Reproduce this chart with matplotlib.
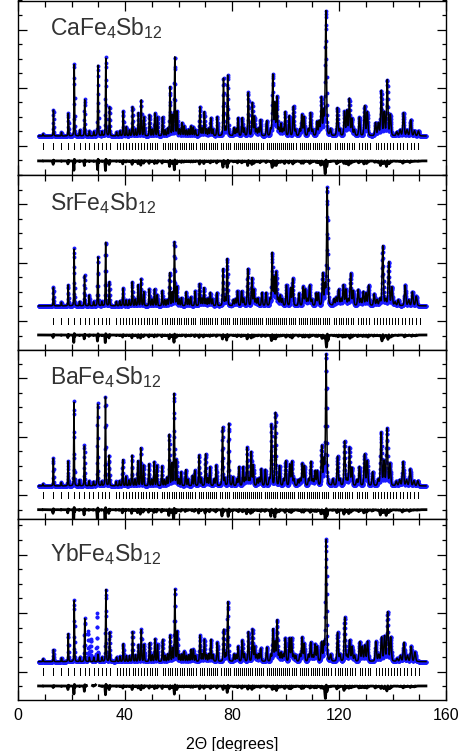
import numpy as np
import matplotlib.pyplot as plt
from matplotlib.ticker import MultipleLocator

plt.rcParams['font.family'] = ['Liberation Sans', 'DejaVu Sans']
plt.rcParams['mathtext.fontset'] = 'custom'
plt.rcParams['mathtext.rm'] = 'Liberation Sans'

# compounds, top to bottom
labels = [r'CaFe$\mathregular{_4}$Sb$\mathregular{_{12}}$',
          r'SrFe$\mathregular{_4}$Sb$\mathregular{_{12}}$',
          r'BaFe$\mathregular{_4}$Sb$\mathregular{_{12}}$',
          r'YbFe$\mathregular{_4}$Sb$\mathregular{_{12}}$']

wavelength = 1.057                            # Angstrom
lattice = [9.162, 9.180, 9.200, 9.158]        # cubic a, Angstrom
first_refl = [2, 4, 2, 2]                     # lowest h2+k2+l2 marked
tt_start, tt_end, tt_step = 7.7, 152.5, 0.05

# observed peak positions (2theta, deg), shared by all four patterns
peak_pos = [9.4, 13.1, 18.7, 21.0, 23.1, 25.0, 26.9, 29.9, 32.9, 34.2,
            36.8, 39.3, 40.5, 42.8, 44.9, 46.0, 47.0, 48.8, 50.9, 52.2,
            54.0, 55.9, 56.8, 57.7, 58.6, 59.5, 61.3, 62.5, 64.8, 65.8,
            67.9, 69.8, 72.1, 74.4, 76.8, 78.4, 80.3, 82.3, 83.8, 85.8,
            87.4, 88.2, 91.0, 92.6, 95.0, 95.9, 96.6, 98.0, 100.2, 101.7,
            102.6, 106.5, 107.3, 109.2, 111.4, 112.2, 113.8, 114.5, 115.4, 119.2,
            119.8, 121.7, 122.5, 124.1, 125.0, 127.2, 129.1, 130.0, 130.9, 132.8,
            136.0, 136.8, 138.3, 139.6, 141.5, 144.3, 147.2, 149.0]

# peak heights above background (axis units)
ca_hgt = [0.15, 1.78, 1.58, 5.00, 0.41, 2.53, 0.34, 4.86, 5.41, 1.99,
          0.27, 1.71, 0.62, 1.99, 1.58, 2.47, 1.30, 1.03, 1.16, 1.30,
          0.96, 0.50, 3.36, 1.40, 5.41, 1.64, 0.89, 0.68, 0.68, 0.60,
          1.99, 1.64, 1.23, 1.30, 3.97, 4.18, 0.55, 1.23, 1.23, 2.53,
          2.26, 1.30, 1.10, 1.03, 4.18, 2.19, 2.67, 0.82, 1.64, 1.37,
          1.58, 1.44, 1.30, 1.58, 0.96, 0.96, 2.60, 1.64, 8.56, 0.62,
          1.30, 1.64, 1.30, 2.53, 1.16, 0.82, 1.10, 0.96, 1.64, 0.89,
          3.08, 1.58, 3.42, 1.44, 0.27, 1.58, 1.10, 0.34]
sr_hgt = [0.00, 1.30, 1.44, 3.97, 0.30, 2.12, 0.75, 3.36, 4.38, 1.64,
          0.30, 1.23, 0.40, 1.64, 1.44, 1.85, 0.96, 0.75, 0.75, 0.75,
          0.68, 0.40, 2.26, 0.90, 4.38, 1.30, 0.55, 0.55, 0.60, 0.60,
          1.50, 1.23, 0.90, 0.90, 2.53, 3.22, 0.40, 1.00, 1.00, 2.10,
          1.90, 1.10, 0.90, 0.90, 3.60, 1.90, 2.30, 0.70, 1.40, 1.20,
          1.40, 1.30, 1.10, 1.40, 0.85, 0.85, 2.20, 1.40, 8.08, 0.55,
          1.10, 1.40, 1.10, 2.20, 1.00, 0.70, 0.95, 0.85, 1.40, 0.80,
          2.70, 1.40, 3.00, 1.25, 0.25, 1.40, 0.95, 0.30]
ba_hgt = [0.15, 1.90, 1.70, 5.80, 0.40, 2.80, 0.35, 5.70, 6.10, 2.10,
          0.30, 1.80, 0.65, 2.10, 1.70, 2.60, 1.40, 1.10, 1.25, 1.40,
          1.00, 0.55, 3.50, 1.50, 6.30, 1.75, 0.95, 0.70, 0.70, 0.65,
          2.10, 1.75, 1.30, 1.40, 4.00, 4.30, 0.60, 1.30, 1.30, 2.60,
          2.30, 1.40, 1.15, 1.10, 4.20, 2.30, 2.70, 0.85, 1.70, 1.45,
          1.65, 1.50, 1.35, 1.65, 1.00, 1.00, 2.70, 1.70, 9.00, 0.65,
          1.35, 1.70, 1.35, 2.60, 1.20, 0.85, 1.15, 1.00, 1.70, 0.95,
          3.20, 1.65, 3.50, 1.50, 0.30, 1.65, 1.15, 0.35]
yb_hgt = [0.20, 0.82, 1.92, 4.25, 0.30, 2.95, 0.30, 0.50, 4.93, 2.05,
          0.30, 1.23, 0.40, 2.05, 1.16, 2.19, 1.16, 0.89, 1.16, 1.16,
          1.16, 0.50, 1.78, 0.90, 4.93, 2.05, 0.50, 0.68, 0.82, 0.82,
          1.78, 1.50, 1.50, 1.30, 2.19, 4.11, 0.50, 1.03, 1.44, 1.58,
          2.19, 1.00, 0.89, 0.96, 2.19, 1.30, 2.81, 0.60, 1.58, 1.58,
          1.58, 1.64, 1.20, 1.30, 1.16, 1.00, 1.30, 1.20, 8.36, 0.82,
          1.16, 1.71, 1.30, 1.44, 1.00, 0.89, 1.00, 1.10, 1.37, 0.96,
          1.64, 1.30, 3.36, 1.64, 0.20, 1.30, 1.03, 0.30]
heights = [ca_hgt, sr_hgt, ba_hgt, yb_hgt]

# weak reflections between the main lines (2theta, height), all compounds
weak_pos = [16.2, 28.3, 31.4, 38.1, 41.7, 43.9, 49.2, 50.2, 51.2, 53.9,
            55.0, 60.4, 63.0, 63.8, 66.4, 68.8, 70.5, 71.3, 73.0, 77.6,
            81.5, 84.6, 86.1, 89.2, 90.0, 94.2, 97.6, 99.1, 103.0, 104.5,
            105.4, 108.4, 110.2, 117.6, 120.6, 123.2, 126.3, 128.0, 134.2,
            135.2, 137.5, 142.6, 145.6, 148.6]
weak_hgt = [0.25, 0.30, 0.30, 0.35, 0.40, 0.45, 0.40, 0.45, 0.40, 0.35,
            0.40, 0.45, 0.40, 0.45, 0.40, 0.50, 0.45, 0.50, 0.45, 0.50,
            0.45, 0.50, 0.45, 0.45, 0.50, 0.45, 0.50, 0.45, 0.45, 0.40,
            0.45, 0.45, 0.40, 0.45, 0.45, 0.40, 0.40, 0.45, 0.40,
            0.45, 0.40, 0.40, 0.40, 0.35]

# impurity peaks seen only in the observed YbFe4Sb12 data
yb_extra_pos = [26.3, 27.2, 29.5]
yb_extra_hgt = [2.05, 1.50, 3.30]
yb_excluded = [(25.6, 27.8), (29.0, 30.4)]

background = [0.68, 1.03, 0.62, 0.68]
diff_level = [-1.03, -0.96, -1.0, -0.98]

# panel layout (pixel rows of the frame edges), y ranges, label heights
edges_px = [0.5, 175, 350, 519, 700]
ylims = [(-2.0, 10.0), (-1.99, 10.0), (-1.64, 9.93), (-1.94, 10.43)]
label_y = [0.8, 0.8, 0.8, 0.77]

W, H = 469, 751
fig = plt.figure(figsize=(W / 100, H / 100), dpi=100)
x0, x1 = 18, 446

tt = np.arange(tt_start, tt_end + 1e-9, tt_step)


def reflections(a):
    s = wavelength / (2 * a)
    n = np.arange(2, 300, 2)
    # sums of three squares only (no 4^k(8m+7))
    ok = []
    for v in n:
        m = v
        while m % 4 == 0:
            m //= 4
        ok.append(m % 8 != 7)
    n = n[np.array(ok)]
    arg = s * np.sqrt(n)
    n, arg = n[arg < 1], arg[arg < 1]
    return n, 2 * np.degrees(np.arcsin(arg))


def profile(pos, hgt, bg, wscale=1.0, shift=0.0):
    y = np.full_like(tt, bg)
    for p, h in zip(pos, hgt):
        sig = (0.09 + 0.0011 * p) * wscale
        u = (tt - p - shift) / sig
        y += h * (0.75 * np.exp(-0.5 * u ** 2) + 0.25 / (1 + (u / 1.2) ** 2))
    return y


axes = []
for i in range(4):
    top, bot = edges_px[i], edges_px[i + 1]
    ax = fig.add_axes([x0 / W, 1 - bot / H, (x1 - x0) / W, (bot - top) / H])
    axes.append(ax)

    n, refl = reflections(lattice[i])
    keep = (n >= first_refl[i]) & (refl <= 150.8)
    ticks = refl[keep]

    # snap peaks onto the nearest reflection of this compound
    pos = [refl[np.argmin(np.abs(refl - p))] for p in peak_pos + weak_pos]
    hgt = heights[i] + weak_hgt

    calc = profile(pos, hgt, background[i])
    obs = profile(pos, hgt, background[i], wscale=0.9, shift=0.012)
    if i == 3:
        obs += profile(yb_extra_pos, yb_extra_hgt, 0.0)
    diff = obs - calc + diff_level[i]
    if i == 3:
        for lo, hi in yb_excluded:
            diff[(tt > lo) & (tt < hi)] = np.nan

    ax.plot(tt, obs, 'o', ms=2.8, mew=0, color='#1a1aff', zorder=2)
    ax.plot(tt, calc, '-', lw=1.1, color='black', zorder=3)
    ax.vlines(ticks, -0.23, 0.23, color='black', lw=0.5, antialiased=False)
    ax.plot(tt, diff, '-', lw=2.0, color='black')

    ax.text(0.075, label_y[i], labels[i], transform=ax.transAxes,
            fontsize=16.5, color='#333333', va='baseline')

    ax.set_xlim(0, 160)
    ax.set_ylim(*ylims[i])
    ax.xaxis.set_major_locator(MultipleLocator(40))
    ax.xaxis.set_minor_locator(MultipleLocator(10))
    ax.yaxis.set_major_locator(MultipleLocator(4))
    ax.yaxis.set_minor_locator(MultipleLocator(1))
    ax.tick_params(which='both', direction='in', top=True, right=True,
                   labelleft=False, width=0.9, labelsize=11.5, pad=6)
    ax.tick_params(axis='y', which='major', length=6.5)
    ax.tick_params(axis='y', which='minor', length=3)
    ax.tick_params(axis='x', which='major', length=7)
    ax.tick_params(axis='x', which='minor', length=4.5)
    for sp in ax.spines.values():
        sp.set_linewidth(1.0)
    if i < 3:
        ax.tick_params(labelbottom=False)

axes[-1].set_xlabel('2\u0398 [degrees]', fontsize=11.5, labelpad=10)

fig.savefig('out.png', dpi=100)
